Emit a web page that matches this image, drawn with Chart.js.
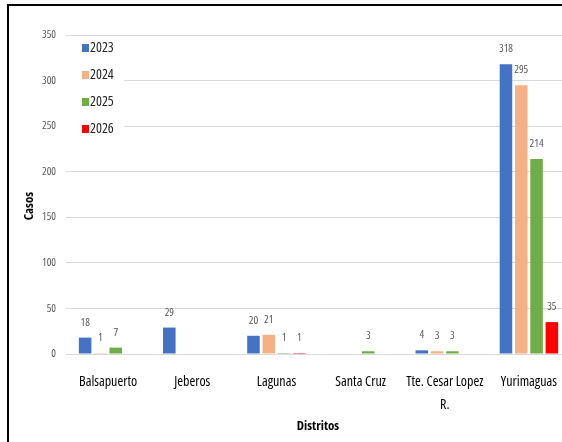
<!DOCTYPE html>
<html>
<head>
<meta charset="utf-8">
<script src="https://cdn.jsdelivr.net/npm/chart.js@4.4.0/dist/chart.umd.min.js"></script>
<style>
  html, body { margin: 0; padding: 0; background: #fff; overflow: hidden; }
  #frame { position: absolute; left: 7px; top: 4px; width: 600px; height: 500px;
           border: 2px solid #000; box-sizing: border-box; }
  #wrap { position: absolute; left: 0; top: 0; width: 575px; height: 442px; }
</style>
</head>
<body>
<div id="frame"></div>
<div id="wrap"><canvas id="chart"></canvas></div>
<script>
// data
const distritos = ['Balsapuerto', 'Jeberos', 'Lagunas', 'Santa Cruz', ['Tte. Cesar Lopez', 'R.'], 'Yurimaguas'];
const years = ['2023', '2024', '2025', '2026'];
const casos2023 = [18, 29, 20, null, 4, 318];
const casos2024 = [1, null, 21, null, 3, 295];
const casos2025 = [7, null, 1, 3, 3, 214];
const casos2026 = [null, null, 1, null, null, 35];
const yTicks = [0, 50, 100, 150, 200, 250, 300, 350];

const colors = ['#4472C4', '#F4B183', '#70AD47', '#FF0000'];
const FONT = "'Open Sans', sans-serif";

// white box + legend inside the plot, and the value labels
const extras = {
    id: 'extras',
    afterDatasetsDraw(chart) {
        const ctx = chart.ctx;
        ctx.save();
        ctx.font = 'condensed 11px ' + FONT;
        ctx.fillStyle = '#595959';
        ctx.textAlign = 'center';
        ctx.textBaseline = 'middle';
        chart.data.datasets.forEach((ds, i) => {
            const meta = chart.getDatasetMeta(i);
            meta.data.forEach((bar, j) => {
                if (ds.data[j] === null) return;
                ctx.fillText(String(ds.data[j]), bar.x, bar.y - 15);
            });
        });
        ctx.restore();
    },
    afterDraw(chart) {
        const ctx = chart.ctx;
        const left = chart.chartArea.left;
        ctx.save();
        ctx.fillStyle = '#fff';
        ctx.fillRect(left, 37, 58, 104);
        ctx.font = 'condensed 14px ' + FONT;
        ctx.textBaseline = 'middle';
        ctx.textAlign = 'left';
        years.forEach((y, i) => {
            const cy = 48 + i * 27;
            ctx.fillStyle = colors[i];
            ctx.fillRect(82, cy - 4, 7, 8);
            ctx.fillStyle = '#262626';
            ctx.fillText(y, 90, cy);
        });
        // axis titles
        ctx.font = 'condensed bold 13px ' + FONT;
        ctx.fillStyle = '#000';
        ctx.textAlign = 'center';
        ctx.fillText('Distritos', 318, 426);
        ctx.translate(29, 206);
        ctx.rotate(-Math.PI / 2);
        ctx.fillText('Casos', 0, 0);
        ctx.restore();
    }
};

const ctx = document.getElementById('chart').getContext('2d');
new Chart(ctx, {
    type: 'bar',
    data: {
        labels: distritos,
        datasets: [
            { label: years[0], data: casos2023, backgroundColor: colors[0] },
            { label: years[1], data: casos2024, backgroundColor: colors[1] },
            { label: years[2], data: casos2025, backgroundColor: colors[2] },
            { label: years[3], data: casos2026, backgroundColor: colors[3] }
        ]
    },
    options: {
        responsive: true,
        maintainAspectRatio: false,
        animation: false,
        categoryPercentage: 0.727,
        barPercentage: 0.82,
        layout: { padding: { top: 35, right: 4, left: 0, bottom: 0 } },
        plugins: { legend: { display: false }, tooltip: { enabled: false } },
        scales: {
            x: {
                grid: { display: false },
                border: { color: '#D9D9D9', width: 1 },
                ticks: {
                    color: '#000',
                    font: { family: FONT, weight: 'condensed', size: 14, lineHeight: 1.65 },
                    padding: 8,
                    maxRotation: 0,
                    autoSkip: false
                },
                afterFit: (scale) => { scale.height = 88; }
            },
            y: {
                min: 0,
                max: 350,
                afterBuildTicks: (scale) => { scale.ticks = yTicks.map(v => ({ value: v })); },
                grid: { color: '#D9D9D9', drawTicks: false },
                border: { display: false },
                ticks: {
                    color: '#595959',
                    font: { family: FONT, weight: 'condensed', size: 11 },
                    padding: 10
                },
                afterFit: (scale) => { scale.width = 66; }
            }
        }
    },
    plugins: [extras]
});
</script>
</body>
</html>
